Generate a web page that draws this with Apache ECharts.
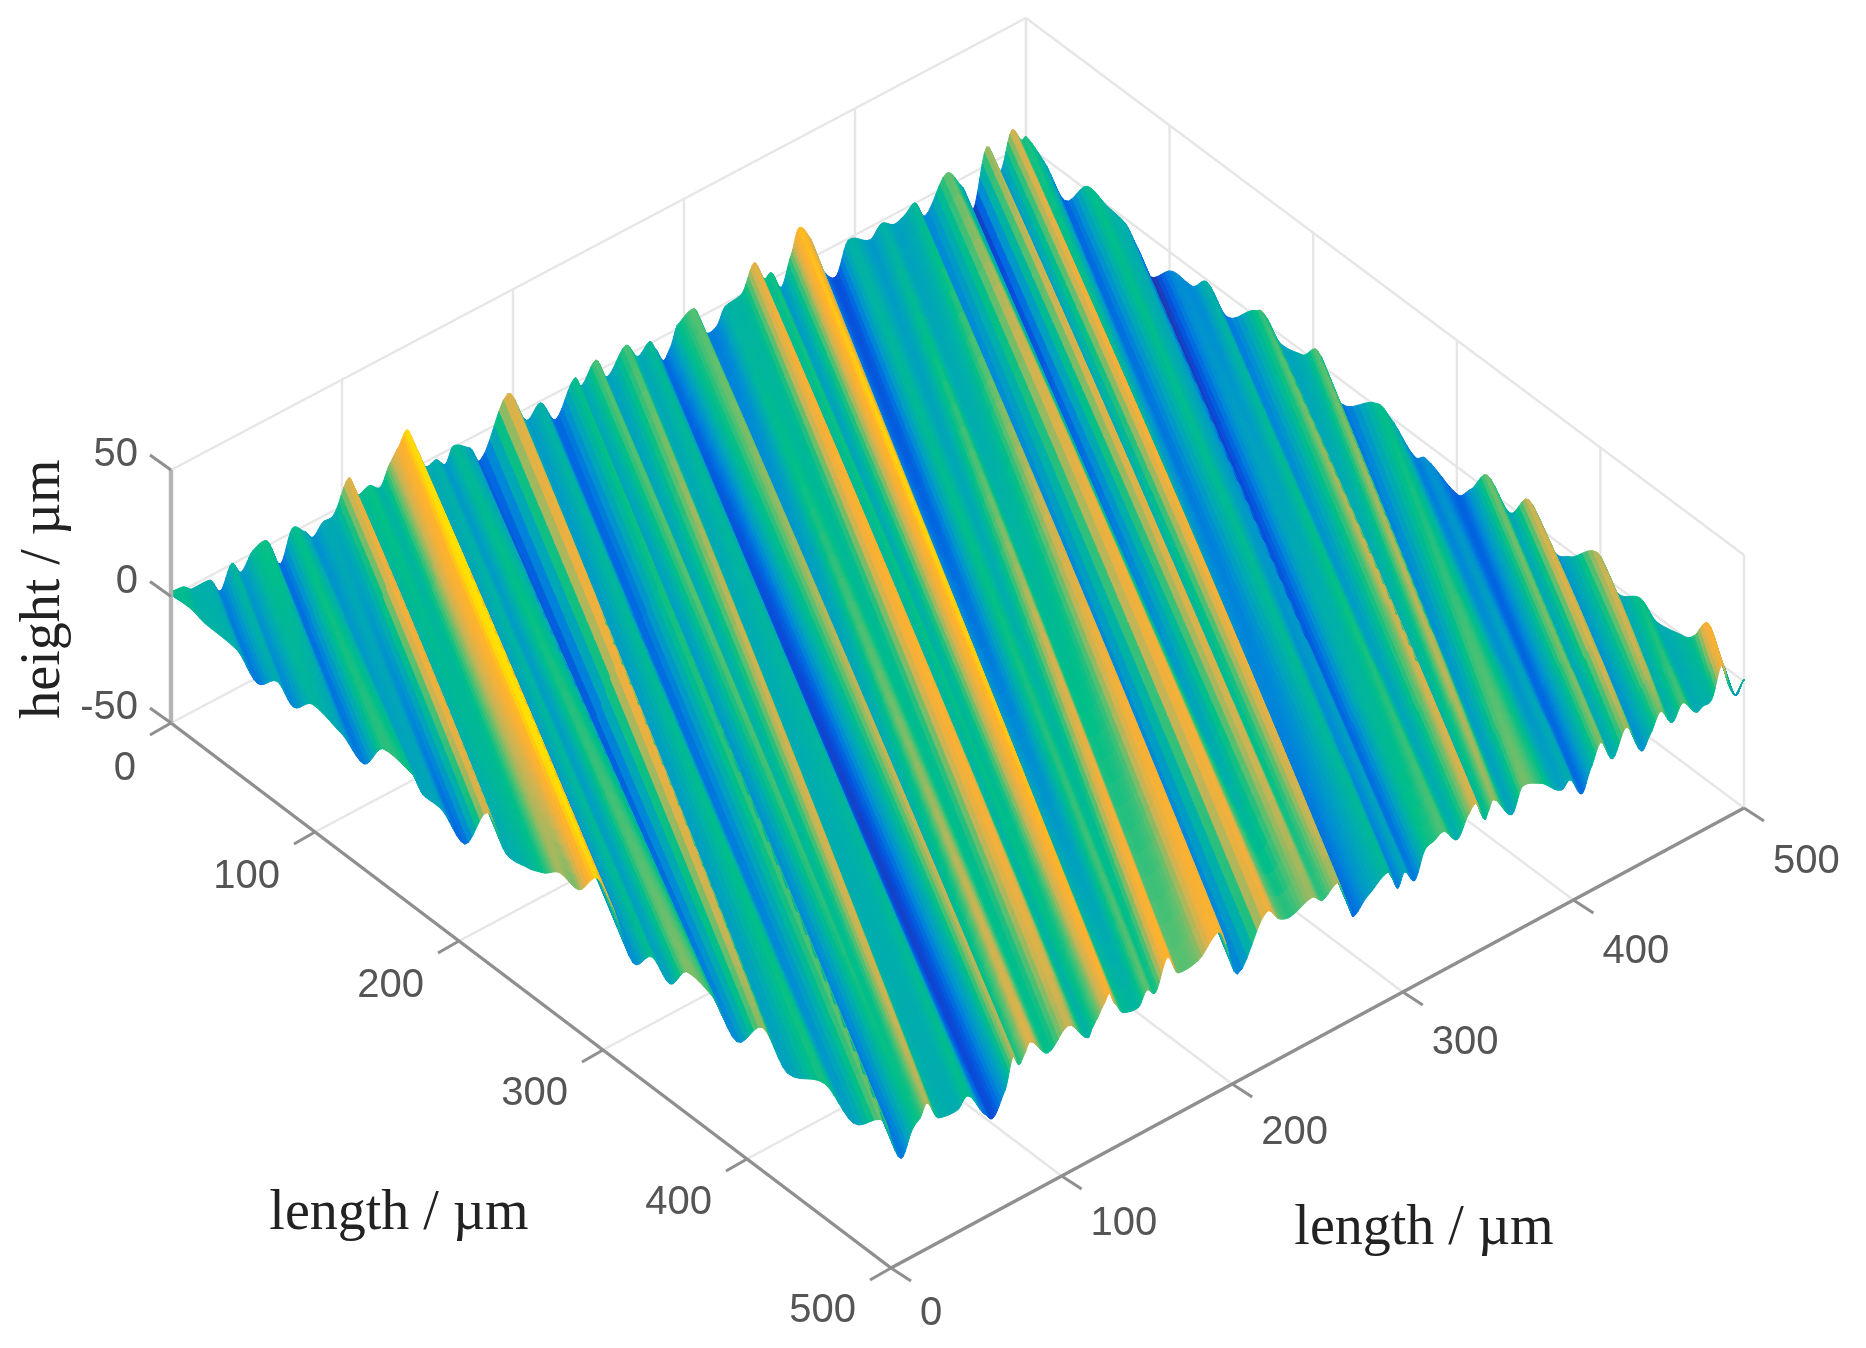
<!DOCTYPE html>
<html><head><meta charset="utf-8"><style>html,body{margin:0;background:#fff}#c{width:1866px;height:1348px;filter:blur(.7px)}</style>
<script src="https://cdn.jsdelivr.net/npm/echarts@6/dist/echarts.min.js"></script></head><body><div id="c"></div>
<script>
// Ridge lines: each runs from a spot on the back rim to a spot on the front rim.
// backPos: 0-500 along u=0 (v rising), 500-1000 along v=500 (u rising). frontPos: 0-500 along v=0 (u rising), 500-1000 along u=500 (v rising).
const backPos=[0,7,12,23,29,35.5,41,48,56,64,71,78.5,83,89,95,104,109,116,122.5,128,133,138,143,149,155,160.5,165,175,181,197,208,216,225,236,240,248.5,255,266,273,280,283,288,292,296,306,313,319,324,334,341,347,351,357,363,367,372.5,382,389,396,409,415.5,423,429,435,441,453.6,463,469,477,485,491.6,497.5,500,512,527,543,557,569,578,586,602,616,626,640,661,666,677,693,703,719,745,753,771,778,801,809,821,837,850,868,877,898,912,928,939,959,964,975,985,994,1000];
const backZ=[1.7,1.3,-1.3,-1.7,-8.1,.4,-5,1.1,2.1,-10,1.7,-2.4,-6.2,-2.3,-1.8,9.8,1.2,2.4,-.6,6.8,11.5,16.6,8,-1.9,-1.3,-5,.5,-3.8,-10.7,9.8,-4.7,-.6,-10.4,2,-2.4,4.7,-4.3,4.3,-2.7,.8,-3,-9.6,-6,1.4,4.5,-7.6,-7.3,-1.1,.4,10.1,1.7,2.6,-5.3,6,14.5,9.8,-8.2,-12.4,-.6,-5.1,-1,-4,-2.6,.2,-7.1,5.3,-3.6,-14.9,7.3,-5.3,8.7,2.7,3.2,-1.1,-10.7,1.7,-.4,-1.7,-8,-15.6,-6.8,-6.8,-.8,-8.7,2.6,3.3,-3.4,-1.3,4.8,-9.3,1.5,-.1,-8.5,-5.9,-10.8,-5.3,5.7,-2.6,8.3,-4.7,-2.8,7.7,-2.5,2.3,-2.2,.2,2.5,12.5,1.1,-8,.3];
const frontPos=[0,13,24,46,60,74,85,98,119,134,147,168,175,188,204,220,233,248,258,270,283,296,305,321,334,346.5,358,376,393,411,428,454,474,496,506,513,517,521,527.5,539,545,556,560,567,571.5,575,578.5,581.5,592,604,615.5,618,620,625,628,631,636,645,650,655,662,668,680,693,703,720,728,734,747,753,762,767,769,771,779,791,794,797,801,807,813,818,824,832,839,843,848,850,853,864,870,880,893,898,905,910,916,923,931,940,945,951,958,964,972,976,981,987,992,995,1000];
const frontZ=[.7,1.1,-.5,-1.4,-8.5,-1.8,-7.1,-.3,-3.3,-8.5,3.2,1.9,-3,-3.3,-10,9.3,-1.6,-.5,2,7.1,6,16.2,10.6,-6.6,1.4,-3.9,5.9,3.9,-6.7,6.6,-4,3,-4,5.9,-8.9,.6,3,7.5,-.7,-1.8,1.6,-10,-12.4,-4,7.4,3,6.4,9.7,1.5,8,-1,2,4,9,12,7,1.4,.2,5.3,2.5,13.9,5.5,6,12.7,-7.7,10.6,5,3.7,6.7,3.4,7,-2,-6,-9.7,-4.7,.5,-3,-8,-3,-8.5,1.5,3,4.7,-1.4,6.5,8.9,.7,3,6.7,-3.2,5.7,3.4,-4,-1.8,-9.9,-2,6.4,-2.6,7,-5.7,-1,5.9,-1,4.6,-2,-1,-.4,11.3,0,-3.4,.8];
// extra height at the middle of a ridge line, judged from its colour there (keyed by backPos)
const liftBackPos=[104,133,138,181,197,225,248.5,266,288,292,306,324,341,363,367,382,389,415.5,435,453.6,469,477,491.6,666,703,850,898];
const liftZ=[2,3,2,-3,3,-2,2,3,-3,-3,2,1,4,2,3,-2,-2,1,3,3,-2,3,4,2,2,2,2];
const leftTicks=[0,100,200,300,400,500];
const rightTicks=[0,100,200,300,400,500];
const heightTicks=[-50,0,50];
const palette=['#352a87','#0a48d8','#0068e0','#0088d8','#00a0c0','#00b0a8','#00bf88','#58c070','#c8b455','#f4b03a','#ffb428','#ffe000'];
const midLift=backPos.map(p=>{const k=liftBackPos.indexOf(p);return k<0?0:liftZ[k];});

// view of the 3D box: floor corners on the page and height scale
const A=[171,723],B=[891,1268],C=[1744,808],D=[1026,271],ZS=2.53;
function proj(u,v,z){const a=u/500,b=v/500;
  const f=i=>(1-a)*(1-b)*A[i]+a*(1-b)*B[i]+a*b*C[i]+(1-a)*b*D[i];
  return [f(0),f(1)-(z+50)*ZS];}
const backUV=p=>p<=500?[0,p]:[p-500,500];
const frontUV=q=>q<=500?[q,0]:[500,q-500];
const SUB=6,ALONG=32,N=backPos.length;
function knotZ(i,t){i=Math.max(0,Math.min(N-1,i));return backZ[i]+(frontZ[i]-backZ[i])*t+midLift[i]*4*t*(1-t);}
function vert(i,s,k){const f=s/SUB,t=k/ALONG;
  const j=f===1?i+1:i,g0=f===1?0:f; // shared edge between strips
  const p=backPos[j]+(j<N-1?(backPos[j+1]-backPos[j])*g0:0),q=frontPos[j]+(j<N-1?(frontPos[j+1]-frontPos[j])*g0:0);
  const y0=knotZ(j-1,t),y1=knotZ(j,t),y2=knotZ(j+1,t),y3=knotZ(j+2,t),c=0.35;
  const m1=c*(y2-y0),m2=c*(y3-y1),w=g0,w2=w*w,w3=w2*w;
  const z=(2*w3-3*w2+1)*y1+(w3-2*w2+w)*m1+(-2*w3+3*w2)*y2+(w3-w2)*m2;
  const b=backUV(p),e=frontUV(q);
  return [b[0]+(e[0]-b[0])*t,b[1]+(e[1]-b[1])*t,z];}
const cells=[];
for(let i=0;i<N-1;i++)for(let s=0;s<SUB;s++)for(let k=0;k<ALONG;k++){
  const a=vert(i,s,k),b=vert(i,s+1,k),c=vert(i,s+1,k+1),d=vert(i,s,k+1);
  const zc=(a[2]+b[2]+c[2]+d[2])/4;
  const depth=proj((a[0]+c[0])/2,(a[1]+c[1])/2,-50)[1];
  cells.push({d:depth,value:[...a,...b,...c,...d,zc]});
}
cells.sort((x,y)=>x.d-y.d);
const surface=cells.map(c=>c.value);

const LIGHT='#e6e6e6',DARK='#8f8f8f';
const lines=[];
function seg(a,b,col,w){lines.push([...a,...b,col,w]);}
for(const t of leftTicks){seg([t,0,-50],[t,500,-50],LIGHT,2.4);seg([t,500,-50],[t,500,50],LIGHT,2.4);}
for(const t of rightTicks){seg([0,t,-50],[500,t,-50],LIGHT,2.4);seg([0,t,-50],[0,t,50],LIGHT,2.4);}
seg([0,0,0],[0,500,0],LIGHT,2.4);seg([0,500,0],[500,500,0],LIGHT,2.4);
seg([0,0,50],[0,500,50],LIGHT,2.4);seg([0,500,50],[500,500,50],LIGHT,2.4);
const frame=[];
function fseg(a,b,col,w){frame.push([...a,...b,col,w]);}
fseg([0,0,-50],[500,0,-50],DARK,3.4);fseg([500,0,-50],[500,500,-50],DARK,3.4);fseg([0,0,-50],[0,0,50],'#b4b4b4',4.4);

function lineRender(params,api){
  const a=proj(api.value(0),api.value(1),api.value(2)),b=proj(api.value(3),api.value(4),api.value(5));
  const p=api.coord(a),q=api.coord(b);
  return {type:'line',shape:{x1:p[0],y1:p[1],x2:q[0],y2:q[1]},style:{stroke:api.value(6),lineWidth:api.value(7)}};
}
function tickRender(params,api){
  const kind=api.value(0),t=api.value(1);
  let a,dx,dy,tx,ty,ta;
  if(kind===0){a=proj(t,0,-50);dx=-21;dy=12;tx=-35;ty=46-t*.006;ta='right';}
  else if(kind===1){a=proj(500,t,-50);dx=20;dy=13;tx=29;ty=46+t*.016;ta='left';}
  else {a=proj(0,0,t);dx=-21;dy=-15;tx=-33;ty=-15;ta='right';}
  const p=api.coord(a);
  return {type:'group',children:[
    {type:'line',shape:{x1:p[0],y1:p[1],x2:p[0]+dx,y2:p[1]+dy},style:{stroke:DARK,lineWidth:3}},
    {type:'text',x:p[0]+tx,y:p[1]+ty,style:{text:String(t),fill:'#555555',font:'40px "Liberation Sans"',textAlign:ta,textVerticalAlign:'middle'}}
  ]};
}
function cellRender(params,api){
  const pts=[];
  for(let j=0;j<4;j++)pts.push(api.coord(proj(api.value(j*3),api.value(j*3+1),api.value(j*3+2))));
  const col=api.visual('color');
  return {type:'polygon',shape:{points:pts},style:{fill:col,stroke:col,lineWidth:1}};
}
const ticks=[...leftTicks.map(t=>[0,t]),...rightTicks.map(t=>[1,t]),...heightTicks.map(t=>[2,t])];
const chart=echarts.init(document.getElementById('c'),null,{renderer:'canvas'});
const serif='"Liberation Serif"';
chart.setOption({
  animation:false,backgroundColor:'#ffffff',
  grid:{left:0,right:0,top:0,bottom:0},
  xAxis:{type:'value',min:0,max:1866,show:false},
  yAxis:{type:'value',min:0,max:1348,inverse:true,show:false},
  visualMap:{show:false,type:'continuous',seriesIndex:1,dimension:12,min:-16,max:17,inRange:{color:palette}},
  graphic:[
    {type:'text',x:399,y:1214,style:{text:'length / µm',font:'56px '+serif,fill:'#222222',textAlign:'center',textVerticalAlign:'middle'}},
    {type:'text',x:1424,y:1229,style:{text:'length / µm',font:'56px '+serif,fill:'#222222',textAlign:'center',textVerticalAlign:'middle'}},
    {type:'text',x:44,y:589,rotation:Math.PI/2,style:{text:'height / µm',font:'56px '+serif,fill:'#222222',textAlign:'center',textVerticalAlign:'middle'}}
  ],
  series:[
    {type:'custom',silent:true,clip:false,renderItem:lineRender,data:lines,z:1,encode:{x:0,y:1}},
    {type:'custom',silent:true,clip:false,renderItem:cellRender,data:surface,z:2,progressive:0,encode:{x:0,y:1}},
    {type:'custom',silent:true,clip:false,renderItem:lineRender,data:frame,z:3,encode:{x:0,y:1}},
    {type:'custom',silent:true,clip:false,renderItem:tickRender,data:ticks,z:4,encode:{x:0,y:1}}
  ]
});
</script></body></html>
